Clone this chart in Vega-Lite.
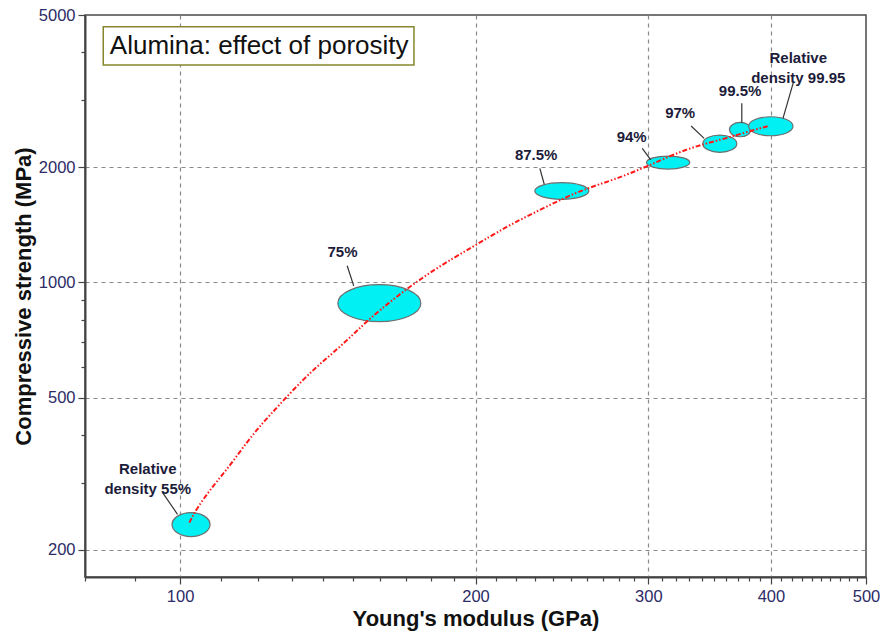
{
  "$schema": "https://vega.github.io/schema/vega-lite/v6.json",
  "width": 781,
  "height": 562,
  "autosize": {"type": "none"},
  "padding": {"left": 85, "top": 15, "right": 14, "bottom": 56},
  "background": "white",
  "config": {
    "font": "Liberation Sans",
    "view": {"stroke": "#4a4a4a", "strokeWidth": 1.5},
    "axis": {
      "domainColor": "#444444",
      "domainWidth": 2,
      "tickColor": "#444444",
      "tickWidth": 1.2,
      "gridColor": "#8a8a8a",
      "gridDash": [4, 4],
      "gridWidth": 1.2,
      "labelColor": "#2c2c66",
      "labelFont": "Liberation Sans",
      "labelFontSize": 16.5,
      "titleFont": "Liberation Sans",
      "titleFontSize": 22,
      "titleFontWeight": "bold",
      "titleColor": "#111111"
    }
  },
  "datasets": {
    "samples": [
      {"density": "55", "modulus": 102.6, "strength": 233},
      {"density": "75", "modulus": 159.6, "strength": 883},
      {"density": "87.5", "modulus": 244.9, "strength": 1734},
      {"density": "94", "modulus": 314.3, "strength": 2058},
      {"density": "97", "modulus": 354.8, "strength": 2305},
      {"density": "99.5", "modulus": 372.2, "strength": 2510},
      {"density": "99.95", "modulus": 399.9, "strength": 2560}
    ],
    "trend": [
      {"modulus": 102.2, "strength": 235.8},
      {"modulus": 103.8, "strength": 255.4},
      {"modulus": 108.0, "strength": 293.8},
      {"modulus": 112.3, "strength": 331.2},
      {"modulus": 116.8, "strength": 381.2},
      {"modulus": 121.4, "strength": 429.9},
      {"modulus": 126.3, "strength": 479.8},
      {"modulus": 133.4, "strength": 557.6},
      {"modulus": 139.8, "strength": 622.4},
      {"modulus": 147.7, "strength": 701.8},
      {"modulus": 154.8, "strength": 791},
      {"modulus": 166.1, "strength": 919.6},
      {"modulus": 181.1, "strength": 1079},
      {"modulus": 198.9, "strength": 1241},
      {"modulus": 215.1, "strength": 1400},
      {"modulus": 229.0, "strength": 1517},
      {"modulus": 243.8, "strength": 1643},
      {"modulus": 259.6, "strength": 1763},
      {"modulus": 276.4, "strength": 1853},
      {"modulus": 298.9, "strength": 2007},
      {"modulus": 328.4, "strength": 2242},
      {"modulus": 355.0, "strength": 2356},
      {"modulus": 384.0, "strength": 2502},
      {"modulus": 397.8, "strength": 2564}
    ],
    "leaders": [
      {"m1": 95.9, "s1": 283.3, "m2": 99.4, "s2": 247.8},
      {"m1": 148.0, "s1": 1105.6, "m2": 150.3, "s2": 980},
      {"m1": 232.6, "s1": 1988, "m2": 235.0, "s2": 1806},
      {"m1": 295.8, "s1": 2242, "m2": 301.7, "s2": 2090},
      {"m1": 331.7, "s1": 2564, "m2": 342.0, "s2": 2380},
      {"m1": 373.6, "s1": 2938, "m2": 373.6, "s2": 2614},
      {"m1": 421.8, "s1": 3344, "m2": 411.5, "s2": 2684}
    ],
    "labels": [
      {"txt": "Relative\ndensity 55%", "modulus": 92.7, "strength": 324.8},
      {"txt": "75%", "modulus": 146.4, "strength": 1205},
      {"txt": "87.5%", "modulus": 230.6, "strength": 2154},
      {"txt": "94%", "modulus": 288.5, "strength": 2404},
      {"txt": "97%", "modulus": 323.3, "strength": 2766},
      {"txt": "99.5%", "modulus": 372.1, "strength": 3170},
      {"txt": "Relative\ndensity 99.95", "modulus": 426.5, "strength": 3850}
    ],
    "caption": [
      {"txt": "Alumina: effect of porosity", "m1": 83.5, "m2": 173.1, "s1": 4660, "s2": 3701, "modulus": 84.8, "strength": 4149}
    ]
  },
  "layer": [
    {
      "data": {"name": "samples"},
      "mark": {"type": "point", "filled": true, "size": 10000, "fill": "#00f0f4", "fillOpacity": 1, "stroke": "#6e6e6e", "strokeWidth": 1.2, "opacity": 1},
      "encoding": {
        "x": {
          "field": "modulus",
          "type": "quantitative",
          "scale": {"type": "log", "domain": [80, 500], "nice": false},
          "axis": {
            "title": "Young's modulus (GPa)",
            "values": [80, 90, 100, 110, 120, 130, 140, 150, 160, 170, 180, 190, 200, 210, 220, 230, 240, 250, 260, 270, 280, 290, 300, 310, 320, 330, 340, 350, 360, 370, 380, 390, 400, 410, 420, 430, 440, 450, 460, 470, 480, 490, 500],
            "labelExpr": "indexof([100, 200, 300, 400, 500], datum.value) >= 0 ? format(datum.value, 'd') : ''",
            "labelFlush": false,
            "labelOverlap": false,
            "labelPadding": 4,
            "grid": true,
            "gridOpacity": {"condition": {"test": "indexof([100, 200, 300, 400], datum.value) >= 0", "value": 1}, "value": 0},
            "tickSize": {"condition": {"test": "indexof([100, 200, 300, 400, 500], datum.value) >= 0", "value": 7}, "value": 4},
            "titlePadding": 4
          }
        },
        "y": {
          "field": "strength",
          "type": "quantitative",
          "scale": {"type": "log", "domain": [170, 5000], "nice": false},
          "axis": {
            "title": "Compressive strength (MPa)",
            "values": [200, 300, 400, 500, 600, 700, 800, 900, 1000, 2000, 3000, 4000, 5000],
            "labelExpr": "indexof([200, 500, 1000, 2000, 5000], datum.value) >= 0 ? format(datum.value, 'd') : ''",
            "labelFlush": false,
            "labelOverlap": false,
            "labelPadding": 3,
            "grid": true,
            "gridOpacity": {"condition": {"test": "indexof([200, 500, 1000, 2000], datum.value) >= 0", "value": 1}, "value": 0},
            "tickSize": {"condition": {"test": "indexof([200, 500, 1000, 2000, 5000], datum.value) >= 0", "value": 7}, "value": 4},
            "titlePadding": 3
          }
        },
        "shape": {
          "field": "density",
          "type": "nominal",
          "legend": null,
          "scale": {
            "domain": ["55", "75", "87.5", "94", "97", "99.5", "99.95"],
            "range": [
              "M-0.38,0A0.38,0.24,0,1,0,0.38,0A0.38,0.24,0,1,0,-0.38,0Z",
              "M-0.83,0A0.83,0.37,0,1,0,0.83,0A0.83,0.37,0,1,0,-0.83,0Z",
              "M-0.54,0A0.54,0.166,0,1,0,0.54,0A0.54,0.166,0,1,0,-0.54,0Z",
              "M-0.433,0A0.433,0.13,0,1,0,0.433,0A0.433,0.13,0,1,0,-0.433,0Z",
              "M-0.34,0A0.34,0.173,0,1,0,0.34,0A0.34,0.173,0,1,0,-0.34,0Z",
              "M-0.214,0A0.214,0.144,0,1,0,0.214,0A0.214,0.144,0,1,0,-0.214,0Z",
              "M-0.444,0A0.444,0.19,0,1,0,0.444,0A0.444,0.19,0,1,0,-0.444,0Z"
            ]
          }
        }
      }
    },
    {
      "data": {"name": "trend"},
      "mark": {"type": "line", "color": "#ff1a1a", "strokeWidth": 2, "strokeDash": [5, 2, 1.5, 2, 1.5, 2], "interpolate": "basis"},
      "encoding": {
        "x": {"field": "modulus", "type": "quantitative", "scale": {"type": "log", "domain": [80, 500], "nice": false}},
        "y": {"field": "strength", "type": "quantitative", "scale": {"type": "log", "domain": [170, 5000], "nice": false}}
      }
    },
    {
      "data": {"name": "leaders"},
      "mark": {"type": "rule", "color": "#333333", "strokeWidth": 1.2},
      "encoding": {
        "x": {"field": "m1", "type": "quantitative", "scale": {"type": "log", "domain": [80, 500], "nice": false}},
        "x2": {"field": "m2"},
        "y": {"field": "s1", "type": "quantitative", "scale": {"type": "log", "domain": [170, 5000], "nice": false}},
        "y2": {"field": "s2"}
      }
    },
    {
      "data": {"name": "labels"},
      "mark": {"type": "text", "font": "Liberation Sans", "fontSize": 15, "fontWeight": "bold", "color": "#1c1c3a", "align": "center", "baseline": "middle", "lineBreak": "\n", "lineHeight": 20},
      "encoding": {
        "x": {"field": "modulus", "type": "quantitative", "scale": {"type": "log", "domain": [80, 500], "nice": false}},
        "y": {"field": "strength", "type": "quantitative", "scale": {"type": "log", "domain": [170, 5000], "nice": false}},
        "text": {"field": "txt"}
      }
    },
    {
      "data": {"name": "caption"},
      "mark": {"type": "rect", "fill": "white", "stroke": "#86862e", "strokeWidth": 1.5},
      "encoding": {
        "x": {"field": "m1", "type": "quantitative", "scale": {"type": "log", "domain": [80, 500], "nice": false}},
        "x2": {"field": "m2"},
        "y": {"field": "s1", "type": "quantitative", "scale": {"type": "log", "domain": [170, 5000], "nice": false}},
        "y2": {"field": "s2"}
      }
    },
    {
      "data": {"name": "caption"},
      "mark": {"type": "text", "font": "Liberation Sans", "fontSize": 26, "color": "#111111", "align": "left", "baseline": "middle"},
      "encoding": {
        "x": {"field": "modulus", "type": "quantitative", "scale": {"type": "log", "domain": [80, 500], "nice": false}},
        "y": {"field": "strength", "type": "quantitative", "scale": {"type": "log", "domain": [170, 5000], "nice": false}},
        "text": {"field": "txt"}
      }
    }
  ]
}
